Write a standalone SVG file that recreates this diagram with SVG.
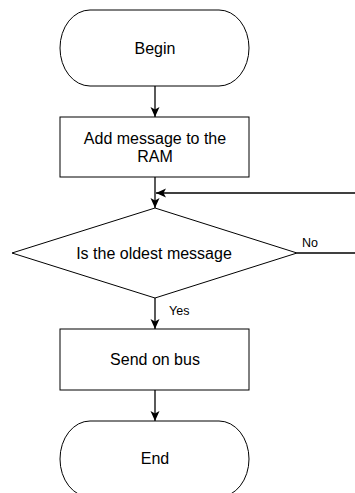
<svg xmlns="http://www.w3.org/2000/svg" width="355" height="493" viewBox="0 0 355 493">
<style>
.shape{fill:#fff;stroke:#000;stroke-width:1}
.edge{fill:none;stroke:#000;stroke-width:1.3}
.t{font-family:"Liberation Sans",Arial,sans-serif;font-size:16px;fill:#000;text-anchor:middle}
.lbl{font-family:"Liberation Sans",Arial,sans-serif;font-size:12.5px;fill:#000}
</style>
<defs>
<marker id="arr" markerUnits="userSpaceOnUse" markerWidth="10" markerHeight="10" viewBox="0 0 10 10" refX="10" refY="5" orient="auto">
<path d="M0,0.5 L10,5 L0,9.5 L2.5,5 Z" fill="#000"/>
</marker>
</defs>
<rect width="355" height="493" fill="#fff"/>
<g id="connectors">
<line class="edge" x1="155" y1="86" x2="155" y2="117" marker-end="url(#arr)"/>
<line class="edge" x1="155" y1="177" x2="155" y2="208" marker-end="url(#arr)"/>
<line class="edge" x1="355" y1="193" x2="156" y2="193" marker-end="url(#arr)"/>
<line class="edge" x1="297" y1="253" x2="355" y2="253"/>
<line class="edge" x1="155" y1="298" x2="155" y2="329" marker-end="url(#arr)"/>
<line class="edge" x1="155" y1="390" x2="155" y2="421" marker-end="url(#arr)"/>
<text class="lbl" x="302" y="247">No</text>
<text class="lbl" x="169" y="315">Yes</text>
</g>
<g id="begin">
<path class="shape" d="M90,10 H219 A30,38 0 0 1 219,86 H90 A30,38 0 0 1 90,10 Z"/>
<text class="t" x="155" y="53.5">Begin</text>
</g>
<g id="add">
<rect class="shape" x="60" y="117" width="189" height="60"/>
<text class="t" x="155" y="144">Add message to the</text>
<text class="t" x="155" y="161.7">RAM</text>
</g>
<g id="decision">
<polygon class="shape" points="155,208 297,253 155,298 12,253"/>
<text class="t" x="154" y="259">Is the oldest message</text>
</g>
<g id="send">
<rect class="shape" x="60" y="329" width="189" height="61"/>
<text class="t" x="155" y="365">Send on bus</text>
</g>
<g id="end">
<path class="shape" d="M90,421 H219 A30,38 0 0 1 219,497 H90 A30,38 0 0 1 90,421 Z"/>
<text class="t" x="155" y="463.5">End</text>
</g>
</svg>
